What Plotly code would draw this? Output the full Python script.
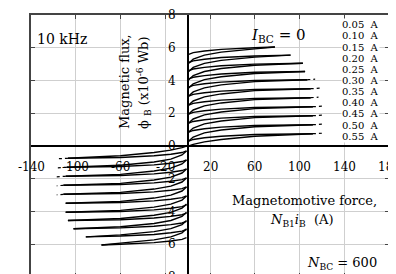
import plotly.graph_objects as go

# ---- data ----
currents = ["0.05", "0.10", "0.15", "0.20", "0.25", "0.30", "0.35", "0.40", "0.45", "0.50", "0.55"]
label_y = [7.40, 6.72, 6.04, 5.36, 4.68, 4.00, 3.32, 2.64, 1.96, 1.28, 0.60]

# first quadrant branches: x points (last is end of loop)
q1_x_pts = [1, 5, 15, 30, 60]
q1_x_end = [78, 92, 103, 105, 107, 110, 110, 112, 112, 112, 112]
q1_tail = [0, 0, 0, 0, 7, 8, 7, 8, 8, 8, 8]
q1_lower = [
    [5.05, 5.30, 5.55, 5.73, 5.93, 6.05],
    [4.55, 4.80, 5.05, 5.23, 5.43, 5.55],
    [4.05, 4.30, 4.55, 4.73, 4.93, 5.05],
    [3.55, 3.80, 4.05, 4.23, 4.43, 4.55],
    [3.05, 3.30, 3.55, 3.73, 3.93, 4.05],
    [2.50, 2.75, 3.00, 3.18, 3.38, 3.50],
    [1.95, 2.20, 2.45, 2.63, 2.83, 2.95],
    [1.40, 1.65, 1.90, 2.08, 2.28, 2.40],
    [0.85, 1.10, 1.35, 1.53, 1.73, 1.85],
    [0.30, 0.55, 0.80, 0.98, 1.18, 1.30],
    [0.00, 0.10, 0.25, 0.40, 0.60, 0.75],
]
q1_upper = [
    [5.60, 5.70, 5.80, 5.90, 6.00, 6.05],
    [5.10, 5.20, 5.30, 5.40, 5.50, 5.55],
    [4.60, 4.70, 4.80, 4.90, 5.00, 5.05],
    [4.10, 4.20, 4.30, 4.40, 4.50, 4.55],
    [3.60, 3.70, 3.80, 3.90, 4.00, 4.05],
    [3.05, 3.15, 3.25, 3.35, 3.45, 3.50],
    [2.50, 2.60, 2.70, 2.80, 2.90, 2.95],
    [1.95, 2.05, 2.15, 2.25, 2.35, 2.40],
    [1.40, 1.50, 1.60, 1.70, 1.80, 1.85],
    [0.85, 0.95, 1.05, 1.15, 1.25, 1.30],
    [0.30, 0.40, 0.50, 0.60, 0.70, 0.75],
]
# third quadrant: same loops mirrored through the origin, own end points
q3_x_pts = [-1, -5, -15, -30, -60]
q3_x_end = [-77, -91, -102, -107, -109, -109, -111, -111, -109, -108, -107]
q3_tail = [0, 0, 0, 0, 0, 0, 6, 6, 8, 8, 10]

x_tick_vals = [-140, -100, -60, -20, 20, 60, 100, 140, 180]
x_tick_text = ["-140", "-100", "-60", "-20", "20", "60", "100", "140", "180"]
y_tick_vals = [8, 6, 4, 2, 0, -2, -4, -6, -8]
y_tick_text = ["8", "6", "4", "2", "0", "2", "4", "6", "8"]

SERIF = "DejaVu Serif"
fig = go.Figure()

def add_line(xs, ys, dash="solid", w=1.4):
    fig.add_trace(go.Scatter(x=xs, y=ys, mode="lines", showlegend=False, hoverinfo="skip",
                             line=dict(color="black", width=w, dash=dash)))

for i in range(len(currents)):
    xs1 = q1_x_pts + [q1_x_end[i]]
    add_line(xs1, q1_lower[i])
    add_line(xs1, q1_upper[i])
    if q1_tail[i]:
        e = q1_lower[i][-1]
        add_line([q1_x_end[i], q1_x_end[i] + q1_tail[i]], [e, e + 0.03], dash="dot", w=1.2)
    xs3 = q3_x_pts + [q3_x_end[i]]
    add_line(xs3, [-v for v in q1_lower[i]])
    add_line(xs3, [-v for v in q1_upper[i]])
    if q3_tail[i]:
        e = -q1_lower[i][-1]
        add_line([q3_x_end[i], q3_x_end[i] - q3_tail[i]], [e, e - 0.03], dash="dot", w=1.2)

ann = []
for v, t in zip(x_tick_vals, x_tick_text):
    ann.append(dict(x=v, y=0, text=t, showarrow=False, yshift=-21, xanchor="center", yanchor="middle",
                    font=dict(family=SERIF, size=12, color="black")))
for v, t in zip(y_tick_vals, y_tick_text):
    ann.append(dict(x=0, y=v, text=t, showarrow=False, xshift=-16, xanchor="center", yanchor="middle",
                    font=dict(family=SERIF, size=12, color="black")))
for c, yy in zip(currents, label_y):
    ann.append(dict(x=137, y=yy, text=c + "\u00a0\u00a0A", showarrow=False, xanchor="left", yanchor="middle",
                    bgcolor="white", borderpad=0, font=dict(family=SERIF, size=10, color="black")))

txt = dict(showarrow=False, xref="paper", yref="paper")
W, H = 358.0, 262.0
def px(xp, yp):
    return (xp - 23) / W, 1 - (yp - 7) / H

for text, (xp, yp), size, ang in [
    ("10 kHz", (54, 31), 14, 0),
    ("<i>I</i><sub>BC</sub> = 0", (270, 27), 15, 0),
    ("Magnetic flux,", (116, 73), 13, -90),
    ("ϕ <sub>B</sub> (x10<sup>-6</sup> Wb)", (136, 75), 13, -90),
    ("Magnetomotive force,", (296, 192), 13, 0),
    ("<i>N</i><sub>B1</sub><i>i</i><sub>B</sub>  (A)", (294, 212), 13, 0),
    ("<i>N</i><sub>BC</sub> = 600", (334, 255), 13, 0),
]:
    xx, yy = px(xp, yp)
    ann.append(dict(x=xx, y=yy, text=text, textangle=ang, xanchor="center", yanchor="middle",
                    font=dict(family=SERIF, size=size, color="black"), **txt))

fig.update_layout(
    width=396, height=274, margin=dict(l=23, r=15, t=7, b=5),
    paper_bgcolor="white", plot_bgcolor="white",
    annotations=ann,
    xaxis=dict(range=[-140, 180], tickvals=[-100, -60, -20, 20, 60, 100, 140], showticklabels=False,
               showgrid=True, gridcolor="#cfcfcf", gridwidth=1,
               zeroline=True, zerolinecolor="black", zerolinewidth=1.5,
               showline=True, mirror="ticks", linecolor="#444", linewidth=1.5,
               ticks="inside", ticklen=4, tickcolor="#444", fixedrange=True),
    yaxis=dict(range=[-8, 8], tickvals=[-6, -4, -2, 2, 4, 6], showticklabels=False,
               showgrid=True, gridcolor="#cfcfcf", gridwidth=1,
               zeroline=True, zerolinecolor="black", zerolinewidth=1.5,
               showline=True, mirror="ticks", linecolor="#444", linewidth=1.5,
               ticks="inside", ticklen=4, tickcolor="#444", fixedrange=True),
)
fig.write_html("out.html")
